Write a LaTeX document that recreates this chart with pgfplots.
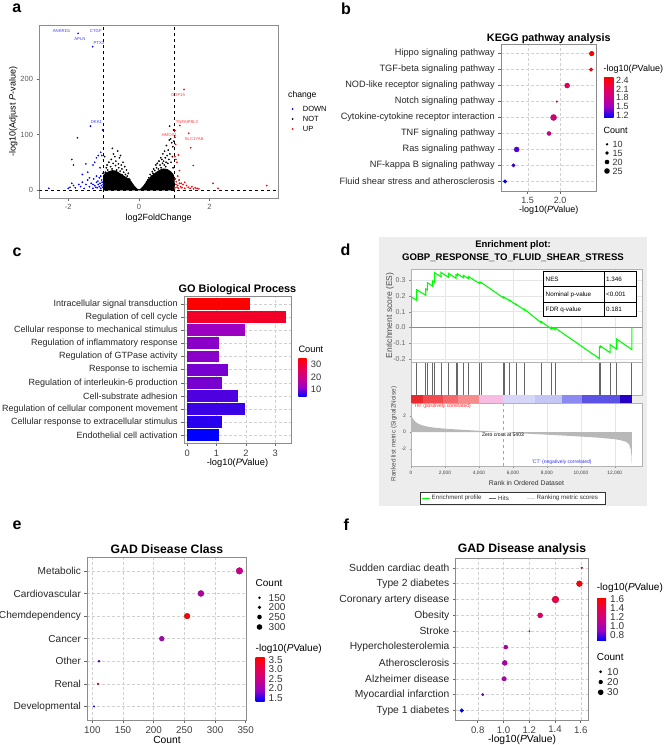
\documentclass[border=0pt]{standalone}
\usepackage{fontspec}
\setmainfont{Liberation Sans}
\usepackage{pgfplots}
\pgfplotsset{compat=1.18}
\newcommand{\fs}[1]{\fontsize{#1}{#1}\selectfont}
\pgfplotsset{colormap={ggbr}{rgb255=(0,0,255) rgb255=(154,0,194) rgb255=(202,0,137) rgb255=(232,0,79) rgb255=(255,0,0)}}
\pgfdeclareverticalshading{ggbrshade}{100bp}{rgb(0bp)=(0,0,1); rgb(25bp)=(0,0,1); rgb(37.5bp)=(0.604,0,0.761); rgb(50bp)=(0.792,0,0.537); rgb(62.5bp)=(0.910,0,0.310); rgb(75bp)=(1,0,0); rgb(100bp)=(1,0,0)}
\tikzset{lab/.style={inner sep=0pt}}
\pgfplotsset{
  gg/.style={scale only axis, anchor=south west,
    axis line style={black!45, line width=0.7pt},
    tick style={black!60, line width=0.5pt},
    tick align=outside, major tick length=2.8pt,
    xtick pos=left, ytick pos=left,
    /pgf/number format/assume math mode=true},
  gggrid/.style={grid=major, major grid style={densely dashed, black!18, line width=0.4pt}},
  ggdots/.style={scatter, only marks, mark=*, point meta=explicit,
    visualization depends on={\thisrow{r} \as \rr},
    scatter/@pre marker code/.append style={/tikz/mark size=\rr pt}},
}
\newcommand{\gobar}[4]{\addplot[xbar, bar width=0.9, bar shift=0pt, draw=none, fill={rgb,255:red,#3;green,0;blue,#4}] coordinates {(#1,#2)};}
\newcommand{\seg}[5]{\addplot[fill={rgb,255:red,#3;green,#4;blue,#5}, draw=none] coordinates {(#1,0)(#1,1)(#2,1)(#2,0)} --cycle;}

\begin{document}
\begin{tikzpicture}[x=1pt,y=1pt]
% ---------------- panel letters
\node[font=\bfseries\fs{16}] at (16.7,-8.5) {a};
\node[font=\bfseries\fs{16}] at (346,-8.5) {b};
\node[font=\bfseries\fs{16}] at (17,-252) {c};
\node[font=\bfseries\fs{16}] at (345.5,-250) {d};
\node[font=\bfseries\fs{16}] at (17,-525.5) {e};
\node[font=\bfseries\fs{16}] at (346.3,-525) {f};

% ================= panel a : volcano
\begin{axis}[gg, at={(39.3pt,-198pt)}, width=238.7pt, height=173pt,
  xmin=-2.82, xmax=3.94, ymin=-14.4, ymax=297,
  xtick={-2,0,2}, ytick={0,100,200},
  tick label style={font=\fs{7.5}, text=black!65}]
\addplot[fill=black, draw=black, line width=0.8pt] coordinates {
(-1.0,0)(-1.0,26)(-0.95,30)(-0.85,33)(-0.75,35)(-0.65,34)(-0.55,30)(-0.45,26)(-0.35,22)(-0.3,20)(-0.2,13)(-0.12,6)(-0.05,1.5)(0,0.3)(0.05,1.5)(0.12,6)(0.2,13)(0.3,21)(0.4,27)(0.5,32)(0.6,36)(0.7,38)(0.8,37)(0.9,33)(0.97,28)(1.0,22)(1.0,0)} --cycle;
\addplot[only marks, mark=*, mark size=0.65pt, black] coordinates {
(-0.95,32)(-0.92,40)(-0.9,45)(-0.88,36)(-0.85,50)(-0.83,30)(-0.8,42)(-0.78,55)(-0.76,38)(-0.75,75)(-0.73,48)(-0.7,33)(-0.68,60)(-0.66,44)(-0.65,52)(-0.63,36)(-0.6,70)(-0.58,47)(-0.57,40)(-0.55,58)(-0.53,34)(-0.5,45)(-0.48,38)(-0.45,50)(-0.43,32)(-0.4,42)(-0.38,28)(-0.35,36)(-0.33,25)(-0.3,30)(-0.28,20)(-0.25,18)(-0.22,14)(-0.98,25)(-0.97,60)(-0.86,28)(-0.62,28)(-0.72,65)(-0.52,62)(-0.47,27)
(0.22,15)(0.25,18)(0.28,22)(0.32,28)(0.35,25)(0.38,33)(0.4,30)(0.42,38)(0.45,35)(0.48,45)(0.5,40)(0.52,48)(0.55,38)(0.57,52)(0.6,45)(0.62,58)(0.63,40)(0.65,55)(0.67,48)(0.68,65)(0.7,52)(0.72,45)(0.73,70)(0.75,58)(0.77,50)(0.78,80)(0.8,62)(0.82,48)(0.83,72)(0.85,55)(0.86,90)(0.87,115)(0.88,65)(0.9,92)(0.91,50)(0.93,85)(0.95,60)(0.96,78)(0.97,40)(0.98,108)(0.99,88)(0.58,32)(0.45,28)(0.66,36)(0.76,42)};
\addplot[only marks, mark=*, mark size=0.65pt, blue] coordinates {
(-2.55,3)(-1.74,94)(-1.72,282)(-1.31,258)(-1.37,115)(-1.03,108)(-1.9,55)(-1.85,45)(-1.6,28)(-1.5,47)(-1.45,32)(-1.3,45)(-1.25,50)(-1.2,58)(-1.15,62)(-1.1,40)(-1.08,68)(-1.05,62)(-1.02,30)(-1.2,25)(-1.12,22)(-1.05,18)(-2.0,3)(-1.95,5)(-1.9,12)(-1.85,8)(-1.8,4)(-1.7,10)(-1.65,6)(-1.6,14)(-1.55,3)(-1.5,10)(-1.45,18)(-1.4,6)(-1.35,12)(-1.3,3)(-1.28,20)(-1.25,8)(-1.2,14)(-1.18,4)(-1.15,10)(-1.12,6)(-1.1,12)(-1.08,3)(-1.06,8)(-1.04,14)(-1.02,5)(-1.01,10)(-1.3,10)(-1.22,5)(-1.16,16)(-1.08,25)(-1.4,22)};
\addplot[only marks, mark=*, mark size=0.65pt, red] coordinates {
(1.28,181)(1.16,116)(1.02,107)(1.41,102)(1.47,76)(1.54,44)(1.04,82)(1.12,63)(1.08,50)(1.15,35)(1.1,25)(1.2,12)(2.1,12)(2.24,3)(3.62,8)(1.02,95)(1.05,55)(1.02,60)(1.03,20)(1.05,10)(1.08,5)(1.1,8)(1.12,3)(1.15,12)(1.18,6)(1.22,4)(1.25,10)(1.3,3)(1.35,8)(1.4,5)(1.45,3)(1.5,6)(1.55,2)(1.6,4)(1.65,3)(1.7,2)(1.02,4)(1.06,15)(1.3,14)(1.14,18)};
\addplot[black, dashed, line width=0.4pt] coordinates {(-1,-14.4)(-1,297)};
\addplot[black, dashed, line width=0.4pt] coordinates {(1,-14.4)(1,297)};
\addplot[black, dashed, line width=0.4pt] coordinates {(-2.82,0)(3.94,0)};
\node[lab, font=\fs{4.3}, text=blue!75] at (axis cs:-2.19,286.5) {ANKRD1};
\node[lab, font=\fs{4.3}, text=blue!75] at (axis cs:-1.67,272.6) {APLN};
\node[lab, font=\fs{4.3}, text=blue!75] at (axis cs:-1.22,286.5) {CTGF};
\node[lab, font=\fs{4.3}, text=blue!75] at (axis cs:-1.13,265.4) {PTX3};
\node[lab, font=\fs{4.3}, text=blue!75] at (axis cs:-1.2,123) {DKK1};
\node[lab, font=\fs{4.3}, text=red!75] at (axis cs:1.11,171) {GDF15};
\node[lab, font=\fs{4.3}, text=red!75] at (axis cs:1.36,122.5) {TNFAIP8L3};
\node[lab, font=\fs{4.3}, text=red!75] at (axis cs:0.86,99.6) {HMOX1};
\node[lab, font=\fs{4.3}, text=red!75] at (axis cs:1.56,92) {SLC17A8};
\end{axis}
\node[font=\fs{9}, rotate=90] at (13.3,-111.5) {-log10(Adjust \textit{P}-value)};
\node[font=\fs{9}] at (158.7,-218) {log2FoldChange};
\node[lab, anchor=west, font=\fs{8.6}] at (288,-95) {change};
\fill[blue] (292.7,-109) circle (1);
\fill[black] (292.7,-119) circle (1);
\fill[red] (292.7,-129) circle (1);
\node[lab, anchor=west, font=\fs{7.5}] at (302.7,-109) {DOWN};
\node[lab, anchor=west, font=\fs{7.5}] at (302.7,-119) {NOT};
\node[lab, anchor=west, font=\fs{7.5}] at (302.7,-129) {UP};

% ================= panel b : KEGG
\begin{axis}[gg, gggrid, at={(501pt,-191pt)}, width=95.7pt, height=147pt,
  xmin=1.087, xmax=2.567, ymin=0.4, ymax=9.6,
  xtick={1.5,2.0}, xticklabels={1.5,2.0},
  ytick={1,...,9},
  yticklabels={Fluid shear stress and atherosclerosis, NF-kappa B signaling pathway, Ras signaling pathway, TNF signaling pathway, Cytokine-cytokine receptor interaction, Notch signaling pathway, NOD-like receptor signaling pathway, TGF-beta signaling pathway, Hippo signaling pathway},
  yticklabel style={font=\fs{9.2}, text=black!85},
  xticklabel style={font=\fs{9}, text=black!75},
  colormap name=ggbr, point meta min=1.15, point meta max=2.49]
\addplot[ggdots] table[x=x, y=y, meta=c] {
x y c r
2.49 9 2.49 2.35
2.48 8 2.48 1.8
2.11 7 2.11 2.5
1.95 6 1.95 0.8
1.90 5 1.90 3.0
1.83 4 1.83 2.0
1.33 3 1.33 2.5
1.28 2 1.28 1.7
1.15 1 1.15 1.8
};
\end{axis}
\node[font=\bfseries\fs{10.8}] at (548.8,-38.3) {KEGG pathway analysis};
\node[font=\fs{9}] at (548.8,-210.5) {-log10(\textit{P}Value)};
\node[lab, anchor=west, font=\fs{9}] at (603.5,-69.3) {-log10(\textit{P}Value)};
\shade[shading=ggbrshade] (604,-117.2) rectangle (613.5,-77.3);
\foreach \v/\yy in {2.4/80.0, 2.1/88.9, 1.8/97.8, 1.5/106.7, 1.2/115.6}
  \node[lab, anchor=west, font=\fs{9}, text=black!80] at (616,-\yy) {\v};
\node[lab, anchor=west, font=\fs{9}] at (603.5,-130.7) {Count};
\foreach \v/\yy/\rr in {10/144.3/1.3, 15/153/1.8, 20/162/2.3, 25/171/2.8}{
  \fill (607,-\yy) circle (\rr);
  \node[lab, anchor=west, font=\fs{9}, text=black!80] at (612.5,-\yy) {\v};}

% ================= panel c : GO BP
\begin{axis}[gg, gggrid, at={(184pt,-443.3pt)}, width=107pt, height=147.3pt,
  xmin=-0.11, xmax=3.54, ymin=0.4, ymax=11.6,
  xtick={0,1,2,3}, ytick={1,...,11},
  yticklabels={Endothelial cell activation, Cellular response to extracellular stimulus, Regulation of cellular component movement, Cell-substrate adhesion, Regulation of interleukin-6 production, Response to ischemia, Regulation of GTPase activity, Regulation of inflammatory response, Cellular response to mechanical stimulus, Regulation of cell cycle, Intracellular signal transduction},
  yticklabel style={font=\fs{9}, text=black!85},
  xticklabel style={font=\fs{9.3}, text=black!75}]
\gobar{1.08}{1}{0}{255}
\gobar{1.19}{2}{40}{239}
\gobar{1.96}{3}{60}{231}
\gobar{1.73}{4}{79}{224}
\gobar{1.19}{5}{119}{208}
\gobar{1.40}{6}{119}{208}
\gobar{1.08}{7}{139}{200}
\gobar{1.08}{8}{139}{200}
\gobar{1.96}{9}{156}{192}
\gobar{3.37}{10}{243}{41}
\gobar{2.15}{11}{255}{0}
\end{axis}
\node[font=\bfseries\fs{10.9}] at (237.5,-289.3) {GO Biological Process};
\node[font=\fs{9.3}] at (237.5,-463.5) {-log10(\textit{P}Value)};
\node[lab, anchor=west, font=\fs{9.3}] at (298.3,-349.3) {Count};
\shade[shading=ggbrshade] (298.3,-396.7) rectangle (306.5,-358.3);
\foreach \v/\yy in {30/364.5, 20/376.9, 10/389.3}
  \node[lab, anchor=west, font=\fs{9.3}, text=black!80] at (310.7,-\yy) {\v};

% ================= panel d : GSEA
\fill[black!7] (379.3,-237.3) rectangle (647.3,-506);
\node[font=\bfseries\fs{9.5}] at (513,-245) {Enrichment plot:};
\node[font=\bfseries\fs{9.6}] at (513,-257.7) {GOBP\_RESPONSE\_TO\_FLUID\_SHEAR\_STRESS};
\begin{axis}[scale only axis, anchor=south west, at={(411pt,-362.7pt)}, width=231pt, height=93.4pt,
  xmin=0, xmax=13600, ymin=-0.225, ymax=0.37,
  xtick={0,2000,4000,6000,8000,10000,12000}, xticklabels={},
  ytick={-0.2,-0.1,0,0.1,0.2,0.3}, yticklabels={-0.2,-0.1,0.0,0.1,0.2,0.3},
  xtick pos=left, ytick pos=left, tick align=outside, major tick length=2pt,
  tick style={black!45}, x tick style={draw=none},
  grid=major, major grid style={black!10, line width=0.4pt},
  axis line style={black!30, line width=0.5pt},
  axis background/.style={fill=white},
  yticklabel style={font=\fs{7}, text=black!60},
  scaled x ticks=false,
  /pgf/number format/assume math mode=true]
\addplot[black!45, line width=0.5pt] coordinates {(0,0)(13600,0)};
\addplot[green, line width=1.1pt] coordinates {
(0,0)(0,0.195)(336,0.172)(336,0.24)(866,0.205)(866,0.245)(960,0.239)(960,0.285)(1278,0.262)(1278,0.295)(1372,0.288)(1372,0.35)(1767,0.322)(1767,0.35)(2197,0.32)(2197,0.345)(2650,0.313)(2650,0.335)(2727,0.33)(2727,0.342)(3080,0.317)(3080,0.332)(3375,0.311)(3375,0.325)(4022,0.28)(4022,0.288)(4122,0.281)(4122,0.287)(5436,0.188)(5436,0.192)(5477,0.189)(5477,0.193)(5790,0.17)(5790,0.174)(6183,0.144)(6183,0.148)(6672,0.111)(6672,0.116)(7657,0.03)(7657,0.038)(8287,-0.012)(8287,0.0)(8481,-0.015)(8481,-0.003)(11090,-0.199)(11090,-0.122)(11173,-0.128)(11173,-0.12)(11720,-0.161)(11720,-0.11)(12115,-0.14)(12115,-0.075)(13000,-0.141)(13000,0.0)};
\end{axis}
\begin{axis}[scale only axis, anchor=south west, at={(411pt,-395pt)}, width=231pt, height=32.3pt,
  xmin=0, xmax=13600, ymin=0, ymax=1, xtick=\empty, ytick=\empty,
  axis line style={black!30, line width=0.5pt}, axis background/.style={fill=white}]
\addplot[ycomb, black!60, line width=0.8pt, mark=none] coordinates {
(336,1)(866,1)(960,1)(1278,1)(1372,1)(1767,1)(2197,1)(2650,1)(2727,1)(3080,1)(3375,1)(4022,1)(4122,1)(5436,1)(5477,1)(5790,1)(6183,1)(6672,1)(7657,1)(8287,1)(8481,1)(11090,1)(11173,1)(11720,1)(12115,1)(13000,1)};
\end{axis}
\begin{axis}[scale only axis, anchor=south west, at={(411pt,-403.3pt)}, width=231pt, height=8.3pt,
  xmin=0, xmax=13600, ymin=0, ymax=1, hide axis]
\seg{0}{689}{235}{40}{45}
\seg{689}{1902}{240}{75}{78}
\seg{1902}{2786}{243}{105}{108}
\seg{2786}{4022}{246}{140}{140}
\seg{4022}{5436}{246}{188}{226}
\seg{5436}{7303}{214}{214}{248}
\seg{7303}{8875}{198}{198}{245}
\seg{8875}{10053}{138}{138}{240}
\seg{10053}{12309}{92}{82}{228}
\seg{12309}{13000}{38}{0}{200}
\end{axis}
\begin{axis}[scale only axis, anchor=south west, at={(411pt,-466pt)}, width=231pt, height=62.7pt,
  xmin=0, xmax=13600, ymin=-4.1, ymax=3.5,
  xtick={0,2000,4000,6000,8000,10000,12000},
  xticklabels={0,{2,000},{4,000},{6,000},{8,000},{10,000},{12,000}},
  scaled x ticks=false,
  ytick={-2,0,2}, yticklabels={-2,0,2},
  xtick pos=left, ytick pos=left, tick align=outside, major tick length=1.5pt,
  tick style={black!45},
  xmajorgrids, major grid style={black!10, line width=0.4pt},
  axis line style={black!30, line width=0.5pt},
  axis background/.style={fill=white},
  xticklabel style={font=\fs{4.8}, text=black!75},
  yticklabel style={font=\fs{5}, text=black!75},
  /pgf/number format/assume math mode=true]
\addplot[fill=black!28, draw=none] coordinates {
(0,2.1)(40,1.9)(120,1.6)(240,1.3)(400,1.05)(550,0.9)(800,0.75)(1100,0.62)(1600,0.5)(2100,0.41)(3000,0.29)(4000,0.17)(4800,0.08)(5430,0)(6200,-0.1)(7000,-0.2)(8000,-0.3)(9000,-0.41)(10000,-0.53)(11000,-0.66)(12000,-0.85)(12400,-1.0)(12700,-1.2)(12850,-1.5)(12940,-2.1)(12990,-3.0)(13000,-4.0)} \closedcycle;
\addplot[black!35, dashed, line width=0.4pt] coordinates {(5430,-4.1)(5430,3.5)};
\end{axis}
\node[lab, anchor=west, font=\fs{5}, text=red!85] at (412.5,-405.8) {'Thl' (positively correlated)};
\node[lab, font=\fs{5}, text=blue!80] at (561.7,-462.5) {'CT' (negatively correlated)};
\node[lab, font=\fs{5}] at (503,-434.3) {Zero cross at 5403};
\node[font=\fs{8.5}, rotate=90, text=black!70] at (390,-315.5) {Enrichment score (ES)};
\node[font=\fs{6.4}, rotate=90, text=black!70] at (394,-434) {Ranked list metric (Signal2Noise)};
\node[font=\fs{6.8}, text=black!80] at (526.5,-483.3) {Rank in Ordered Dataset};
% NES table
\draw[black, line width=0.9pt, fill=white] (543.3,-271.7) rectangle (636,-316.7);
\draw[black, line width=0.9pt] (604,-271.7) -- (604,-316.7);
\draw[black, line width=0.9pt] (543.3,-286.7) -- (636,-286.7);
\draw[black, line width=0.9pt] (543.3,-302.3) -- (636,-302.3);
\node[lab, anchor=west, font=\fs{6.3}] at (545.5,-279.2) {NES};
\node[lab, anchor=west, font=\fs{6.3}] at (606,-279.2) {1.346};
\node[lab, anchor=west, font=\fs{6.3}] at (545.5,-294.5) {Nominal p-value};
\node[lab, anchor=west, font=\fs{6.3}] at (606,-294.5) {<0.001};
\node[lab, anchor=west, font=\fs{6.3}] at (545.5,-309.6) {FDR q-value};
\node[lab, anchor=west, font=\fs{6.3}] at (606,-309.6) {0.181};
% legend
\draw[black!80, line width=0.6pt, fill=white] (420.7,-492.3) rectangle (605,-504);
\draw[green, line width=1.2pt] (421.7,-498.2) -- (430,-498.2);
\node[lab, anchor=west, font=\fs{6.2}, text=black!80] at (431.5,-498.2) {Enrichment profile};
\draw[black!60, line width=0.6pt] (489.3,-498.2) -- (496,-498.2);
\node[lab, anchor=west, font=\fs{6.2}, text=black!80] at (498,-498.2) {Hits};
\draw[black!15, line width=0.6pt] (526.7,-498.2) -- (535,-498.2);
\node[lab, anchor=west, font=\fs{6.2}, text=black!80] at (536.5,-498.2) {Ranking metric scores};

% ================= panel e : GAD disease class
\begin{axis}[gg, gggrid, at={(87.3pt,-720pt)}, width=159.4pt, height=162.7pt,
  xmin=91.8, xmax=351.6, ymin=0.4, ymax=7.6,
  xtick={100,150,200,250,300,350}, ytick={1,...,7},
  yticklabels={Developmental, Renal, Other, Cancer, Chemdependency, Cardiovascular, Metabolic},
  yticklabel style={font=\fs{10.1}, text=black!85},
  xticklabel style={font=\fs{9.8}, text=black!75},
  colormap name=ggbr, point meta min=1.32, point meta max=3.62]
\addplot[ggdots] table[x=x, y=y, meta=c] {
x y c r
339.8 7 2.47 3.3
277.0 6 2.20 3.0
254.5 5 3.62 2.8
213.2 4 2.08 2.4
110.9 3 1.65 1.0
109.3 2 3.05 0.9
102.8 1 1.40 0.8
};
\end{axis}
\node[font=\bfseries\fs{12.2}] at (167,-549) {GAD Disease Class};
\node[font=\fs{10.3}] at (167,-739.5) {Count};
\node[lab, anchor=west, font=\fs{10}] at (255.5,-583.3) {Count};
\foreach \v/\yy/\rr in {150/597.7/1.3, 200/607.3/1.8, 250/617/2.3, 300/627/2.8}{
  \fill (259.5,-\yy) circle (\rr);
  \node[lab, anchor=west, font=\fs{10}, text=black!80] at (268.5,-\yy) {\v};}
\node[lab, anchor=west, font=\fs{10}] at (255.5,-649) {-log10(\textit{P}Value)};
\shade[shading=ggbrshade] (255.5,-701) rectangle (264.5,-657.7);
\foreach \v/\yy in {3.5/660, 3.0/669.4, 2.5/678.9, 2.0/688.3, 1.5/697.7}
  \node[lab, anchor=west, font=\fs{10}, text=black!80] at (268.5,-\yy) {\v};

% ================= panel f : GAD disease analysis
\begin{axis}[gg, gggrid, at={(455.7pt,-720pt)}, width=132.6pt, height=161.7pt,
  xmin=0.629, xmax=1.659, ymin=0.4, ymax=10.6,
  xtick={0.8,1.0,1.2,1.4,1.6}, xticklabels={0.8,1.0,1.2,1.4,1.6},
  ytick={1,...,10},
  yticklabels={Type 1 diabetes, Myocardial infarction, Alzheimer disease, Atherosclerosis, Hypercholesterolemia, Stroke, Obesity, Coronary artery disease, Type 2 diabetes, Sudden cardiac death},
  yticklabel style={font=\fs{10.3}, text=black!85},
  xticklabel style={font=\fs{9.6}, text=black!75},
  colormap name=ggbr, point meta min=0.676, point meta max=1.608]
\addplot[ggdots] table[x=x, y=y, meta=c] {
x y c r
1.608 10 1.608 0.9
1.590 9 1.590 2.9
1.404 8 1.404 3.4
1.285 7 1.285 2.5
1.202 6 1.202 0.7
1.018 5 1.018 2.0
1.010 4 1.010 2.5
1.005 3 1.005 2.2
0.839 2 0.839 1.2
0.676 1 0.676 1.8
};
\end{axis}
\node[font=\bfseries\fs{12.2}] at (522,-549.3) {GAD Disease analysis};
\node[font=\fs{10.3}] at (522,-739.5) {-log10(\textit{P}Value)};
\node[lab, anchor=west, font=\fs{10}] at (596.7,-588.3) {-log10(\textit{P}Value)};
\shade[shading=ggbrshade] (597,-640.7) rectangle (606,-598.3);
\foreach \v/\yy in {1.6/598.7, 1.4/607.8, 1.2/616.9, 1.0/626, 0.8/635.1}
  \node[lab, anchor=west, font=\fs{10}, text=black!80] at (610,-\yy) {\v};
\node[lab, anchor=west, font=\fs{10}] at (596.7,-657.3) {Count};
\foreach \v/\yy/\rr in {10/671.7/1.5, 20/682/2.15, 30/692.3/2.8}{
  \fill (600.7,-\yy) circle (\rr);
  \node[lab, anchor=west, font=\fs{10}, text=black!80] at (607,-\yy) {\v};}

\pgfresetboundingbox
\path[use as bounding box] (0,0) rectangle (667,-745);
\end{tikzpicture}
\end{document}
